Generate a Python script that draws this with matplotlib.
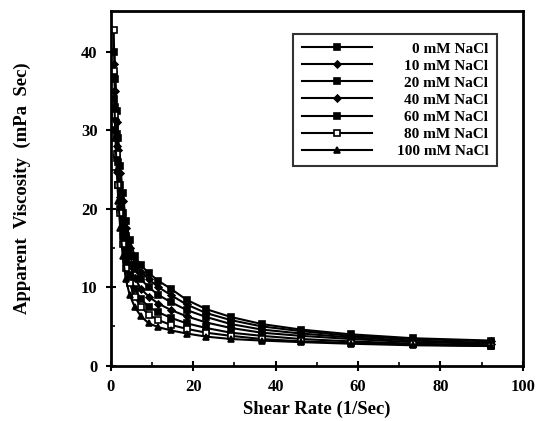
import numpy as np
import matplotlib
matplotlib.use('Agg')
import matplotlib.pyplot as plt

plt.rcParams['font.family'] = ['Liberation Serif', 'DejaVu Serif']
plt.rcParams['font.weight'] = 'bold'

# shear rates (1/Sec)
shear_rate = [0.73, 0.92, 1.16, 1.46, 1.84, 2.32, 2.92, 3.67, 4.62, 5.82, 7.33,
              9.23, 11.6, 14.6, 18.4, 23.2, 29.2, 36.7, 46.2, 58.2, 73.3, 92.3]

labels = ['0 mM NaCl', '10 mM NaCl', '20 mM NaCl', '40 mM NaCl',
          '60 mM NaCl', '80 mM NaCl', '100 mM NaCl']

# apparent viscosity (mPa Sec), None where no point was drawn
visc_0 = [None, 40.0, 36.5, 32.5, 29.0, 25.5, 22.0, 18.5, 16.0, 14.0, 12.8,
          11.8, 10.8, 9.8, 8.4, 7.2, 6.2, 5.3, 4.6, 4.0, 3.5, 3.2]
visc_10 = [None, 38.5, 35.0, 31.0, 27.5, 24.5, 21.0, 17.5, 15.0, 13.2, 12.0,
           11.0, 10.0, 9.0, 7.8, 6.7, 5.8, 5.0, 4.4, 3.8, 3.4, 3.1]
visc_20 = [None, 37.0, 33.0, 29.5, 26.0, 23.0, 19.5, 16.5, 14.0, 12.3, 11.0,
           10.0, 9.0, 8.1, 7.1, 6.2, 5.3, 4.6, 4.1, 3.6, 3.2, 2.9]
visc_40 = [None, 35.0, 31.5, 28.0, 24.5, 21.5, 18.0, 15.0, 12.8, 11.2, 9.8,
           8.8, 7.9, 7.1, 6.3, 5.5, 4.8, 4.2, 3.8, 3.4, 3.0, 2.8]
visc_60 = [None, 34.0, 30.0, 26.5, 23.0, 20.0, 16.5, 13.5, 11.5, 9.8, 8.5,
           7.5, 6.8, 6.1, 5.4, 4.8, 4.2, 3.8, 3.4, 3.1, 2.8, 2.6]
visc_80 = [42.8, 37.5, 32.0, 27.0, 23.0, 19.5, 15.5, 12.5, 10.5, 8.8, 7.5,
           6.5, 5.8, 5.2, 4.7, 4.2, 3.8, 3.4, 3.1, 2.9, 2.7, 2.5]
visc_100 = [None, 33.0, 29.0, 25.0, 21.0, 17.5, 14.0, 11.0, 9.0, 7.5, 6.3,
            5.4, 4.9, 4.5, 4.1, 3.7, 3.4, 3.2, 3.0, 2.8, 2.6, 2.5]

series = [visc_0, visc_10, visc_20, visc_40, visc_60, visc_80, visc_100]
markers = ['s', 'D', 's', 'D', 's', 's', '^']
faces = ['black', 'black', 'black', 'black', 'black', 'white', 'black']
sizes = [4.5, 3.5, 4.5, 3.5, 4.5, 4.5, 4.5]

fig = plt.figure(figsize=(5.36, 4.21), dpi=100)
ax = fig.add_axes([0.2065, 0.1314, 0.769, 0.8424])

for vals, lab, m, fc, ms in zip(series, labels, markers, faces, sizes):
    x = [r for r, v in zip(shear_rate, vals) if v is not None]
    y = [v for v in vals if v is not None]
    ax.plot(x, y, color='black', lw=1.5, marker=m, ms=ms,
            mfc=fc, mec='black', mew=1.2, label=lab)

ax.set_xlim(0, 100)
ax.set_ylim(0, 45.2)
ax.set_xticks(np.arange(0, 101, 20))
ax.set_xticks(np.arange(10, 100, 20), minor=True)
ax.set_yticks(np.arange(0, 41, 10))
ax.set_yticks(np.arange(5, 45, 10), minor=True)
ax.tick_params(which='major', direction='inout', length=7, width=1.5,
               labelsize=12, pad=6)
ax.tick_params(which='minor', direction='in', length=3, width=1.2)
for lbl in ax.get_xticklabels() + ax.get_yticklabels():
    lbl.set_fontweight('bold')
for sp in ax.spines.values():
    sp.set_linewidth(2)

ax.set_xlabel('Shear Rate (1/Sec)', fontsize=13.5, fontweight='bold', labelpad=4)
ax.set_ylabel('Apparent  Viscosity  (mPa  Sec)', fontsize=13.5,
              fontweight='bold', labelpad=36)

leg = ax.legend(loc='upper right', bbox_to_anchor=(0.955, 0.958),
                frameon=True, fancybox=False, handlelength=4.6,
                handletextpad=1.6, labelspacing=0.22, borderpad=0.55,
                prop={'size': 11, 'weight': 'bold'}, markerfirst=True)
leg.get_frame().set_edgecolor('black')
leg.get_frame().set_linewidth(1.5)
# right-align legend text inside the box
renderer = fig.canvas.get_renderer()
fig.canvas.draw()
w = max(t.get_window_extent(renderer).width for t in leg.get_texts())
for t in leg.get_texts():
    t.set_position((w - t.get_window_extent(renderer).width, 0))

plt.savefig('out.png', dpi=100)
